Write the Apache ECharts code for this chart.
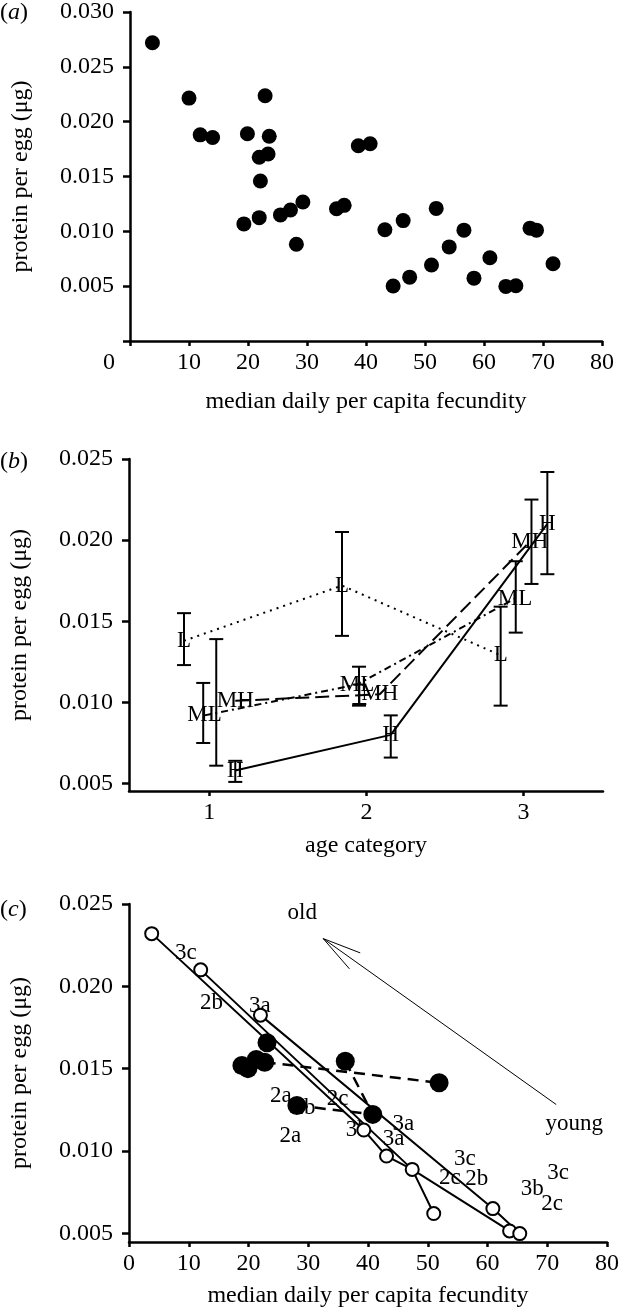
<!DOCTYPE html>
<html><head><meta charset="utf-8">
<script src="https://cdn.jsdelivr.net/npm/echarts@6/dist/echarts.min.js"></script>
<style>html,body{margin:0;padding:0;background:#fff}#c{width:622px;height:1309px}</style>
</head><body><div id="c"></div>
<script>
// ---------- panel (a) ----------
const aFec = [3.8,10.0,11.9,14.0,19.9,22.9,23.6,23.4,21.9,22.1,19.3,21.9,25.5,27.2,29.3,28.2,35.0,36.3,38.7,40.7,43.2,44.6,46.3,47.4,51.1,51.9,54.1,56.6,58.3,61.0,63.7,65.4,67.8,68.9,71.7];
const aProt = [0.0272,0.02215,0.0188,0.01855,0.0189,0.02236,0.01867,0.01705,0.01675,0.01459,0.01068,0.01125,0.0115,0.01195,0.01267,0.00882,0.01206,0.01237,0.0178,0.01798,0.01014,0.00501,0.01098,0.00582,0.00693,0.01209,0.00858,0.01011,0.00573,0.00759,0.00498,0.00504,0.01029,0.01011,0.00705];
const aYTicks = [0,0.005,0.010,0.015,0.020,0.025,0.030];
const aYLabels = [0.005,0.010,0.015,0.020,0.025,0.030];

// ---------- panel (b) ----------
const bTicks = [1,2,3];
const bYTicks = [0.005,0.010,0.015,0.020,0.025];
const bGroups = ['L','ML','MH','H'];
const bLineX = { L:[0.84,1.845,2.854], ML:[0.97,1.94,2.945], MH:[1.166,2.085,3.04], H:[1.166,2.155,3.151] };
const bErrX  = { L:[0.84,1.845,2.854], ML:[0.962,1.953,2.95], MH:[1.045,1.955,3.05], H:[1.166,2.155,3.151] };
const bMean  = { L:[0.0138,0.0172,0.0129], ML:[0.0092,0.0111,0.0164], MH:[0.0101,0.0105,0.0199], H:[0.0058,0.0080,0.0210] };
const bLo    = { L:[0.0123,0.0141,0.0098], ML:[0.0075,0.0098,0.0143], MH:[0.0061,0.0099,0.0173], H:[0.0051,0.0066,0.0179] };
const bHi    = { L:[0.0155,0.0205,0.0159], ML:[0.0112,0.0122,0.0187], MH:[0.0139,0.0111,0.0225], H:[0.0064,0.0092,0.0242] };

// ---------- panel (c) ----------
const cXTicks = [0,10,20,30,40,50,60,70,80];
const cYTicks = [0.005,0.010,0.015,0.020,0.025];
const ocX = [3.8,12.0,22.0,39.3,43.1,47.4,51.0,60.9,63.7,65.4];
const ocY = [0.0232,0.0210,0.01825,0.01127,0.00969,0.00888,0.0062,0.0065,0.00514,0.00498];
const ocPaths = [[0,3,4,5,8],[1,5,6],[2,7,9]];
const fcX = [23.1,18.9,19.9,21.3,22.7,36.2,51.9,28.1,40.8];
const fcY = [0.01657,0.01519,0.0150,0.01555,0.01539,0.01545,0.01414,0.01276,0.01222];
const fcPaths = [[4,6],[5,8],[7,8]];
const cLabelText = ['3c','2b','3a','2a','2b','2a','2c','3b','3a','3a','3c','2c','2b','3b','3c','2c'];
const cLabelX = [9.5,13.8,21.9,25.4,29.3,27.0,34.9,38.2,45.9,44.3,56.2,53.7,58.2,67.5,71.8,70.8];
const cLabelY = [0.02203,0.0190,0.01879,0.01337,0.01262,0.01094,0.01317,0.01127,0.01161,0.01074,0.00953,0.00838,0.00828,0.00767,0.00868,0.00676];
const ageText = ['old','young'];
const ageX = [29.0,74.5];
const ageY = [0.02445,0.01161];
const arrowShaft = [[71.5,0.01282],[32.5,0.0229]];
const arrowBarbA = [[32.5,0.0229],[38.7,0.02203]];
const arrowBarbB = [[32.5,0.0229],[36.9,0.02106]];

const FONT = 'Liberation Serif';
const txt = {fontFamily: FONT, fontSize: 24, color: '#000'};
const axLine = {lineStyle: {color: '#000', width: 2.5}, onZero: false};
const fmt3 = v => v.toFixed(3);

function xAxisCfg(g, min, max, ticks, name, nameGap, fmt, rich) {
  return {gridIndex: g, type: 'value', min: min, max: max,
    axisLine: axLine, splitLine: {show: false},
    axisTick: {length: 5, lineStyle: {color: '#000', width: 2.5}, customValues: ticks},
    axisLabel: Object.assign({margin: 10, customValues: ticks, formatter: fmt, rich: rich}, txt),
    name: name, nameLocation: 'middle', nameGap: nameGap, nameTextStyle: txt};
}
function yAxisCfg(g, min, max, ticks, labels) {
  return {gridIndex: g, type: 'value', min: min, max: max,
    axisLine: axLine, splitLine: {show: false},
    axisTick: {length: 7, lineStyle: {color: '#000', width: 2.5}, customValues: ticks},
    axisLabel: Object.assign({margin: 16, customValues: labels, formatter: fmt3}, txt),
    name: 'protein per egg (μg)', nameLocation: 'middle', nameGap: 97, nameTextStyle: txt};
}

const textLabel = Object.assign({show: true, position: 'inside'}, txt, {fontSize: 23, opacity: 1});
const series = [];
// (a)
series.push({type: 'scatter', xAxisIndex: 0, yAxisIndex: 0, symbolSize: 15,
  itemStyle: {color: '#000', opacity: 1}, data: aFec.map((x, i) => [x, aProt[i]])});

// (b)
const bStyles = {L: {type: [2, 5], width: 2}, ML: {type: [7, 4, 2, 4], width: 2}, MH: {type: [14, 6], width: 2}, H: {type: 'solid', width: 2}};
bGroups.forEach(gname => {
  series.push({type: 'line', xAxisIndex: 1, yAxisIndex: 1, symbol: 'none', z: 2,
    lineStyle: Object.assign({color: '#000', opacity: 1}, bStyles[gname]),
    data: bLineX[gname].map((x, i) => [x, bMean[gname][i]])});
  series.push({type: 'custom', xAxisIndex: 1, yAxisIndex: 1, z: 3,
    data: bErrX[gname].map((x, i) => [x, bLo[gname][i], bHi[gname][i]]),
    renderItem: function (params, api) {
      const p1 = api.coord([api.value(0), api.value(1)]);
      const p2 = api.coord([api.value(0), api.value(2)]);
      const st = {stroke: '#000', lineWidth: 2};
      return {type: 'group', children: [
        {type: 'line', shape: {x1: p1[0], y1: p1[1], x2: p2[0], y2: p2[1]}, style: st},
        {type: 'line', shape: {x1: p1[0] - 7, y1: p1[1], x2: p1[0] + 7, y2: p1[1]}, style: st},
        {type: 'line', shape: {x1: p2[0] - 7, y1: p2[1], x2: p2[0] + 7, y2: p2[1]}, style: st}
      ]};
    }});
  series.push({type: 'scatter', xAxisIndex: 1, yAxisIndex: 1, symbolSize: 1, z: 4,
    itemStyle: {color: 'rgba(0,0,0,0)', opacity: 1},
    label: Object.assign({formatter: gname}, textLabel),
    data: bLineX[gname].map((x, i) => [x, bMean[gname][i]])});
});

// (c)
ocPaths.forEach(p => series.push({type: 'line', xAxisIndex: 2, yAxisIndex: 2, symbol: 'none', z: 2,
  lineStyle: {color: '#000', width: 2, opacity: 1}, data: p.map(i => [ocX[i], ocY[i]])}));
fcPaths.forEach(p => series.push({type: 'line', xAxisIndex: 2, yAxisIndex: 2, symbol: 'none', z: 2,
  lineStyle: {color: '#000', width: 2.5, type: [11, 7], opacity: 1}, data: p.map(i => [fcX[i], fcY[i]])}));
[arrowShaft, arrowBarbA, arrowBarbB].forEach(d => series.push({type: 'line', xAxisIndex: 2, yAxisIndex: 2,
  symbol: 'none', z: 2, lineStyle: {color: '#000', width: 1, opacity: 1}, data: d}));
series.push({type: 'scatter', xAxisIndex: 2, yAxisIndex: 2, symbolSize: 1, z: 3,
  itemStyle: {color: 'rgba(0,0,0,0)', opacity: 1},
  label: Object.assign({formatter: p => p.data[2]}, textLabel),
  data: cLabelX.map((x, i) => [x, cLabelY[i], cLabelText[i]]).concat(ageX.map((x, i) => [x, ageY[i], ageText[i]]))});
series.push({type: 'scatter', xAxisIndex: 2, yAxisIndex: 2, symbolSize: 19, z: 4,
  itemStyle: {color: '#000', opacity: 1}, data: fcX.map((x, i) => [x, fcY[i]])});
series.push({type: 'scatter', xAxisIndex: 2, yAxisIndex: 2, symbolSize: 13, z: 5,
  itemStyle: {color: '#fff', borderColor: '#000', borderWidth: 2, opacity: 1}, data: ocX.map((x, i) => [x, ocY[i]])});

const panelLetter = (letter, y) => ({type: 'text', x: 0, y: y,
  style: {text: '({i|' + letter + '})', fontFamily: FONT, fontSize: 24, fill: '#000', verticalAlign: 'middle',
    rich: {i: {fontFamily: FONT, fontSize: 24, fontStyle: 'italic', fill: '#000'}}}});

const option = {
  animation: false,
  backgroundColor: '#fff',
  grid: [
    {left: 130, right: 20, top: 7.5, bottom: 968},
    {left: 129, right: 19, top: 459, bottom: 518},
    {left: 129, right: 11, top: 904, bottom: 66}
  ],
  xAxis: [
    xAxisCfg(0, 0, 80, cXTicks, 'median daily per capita fecundity', 49,
      v => v === 0 ? '{z|0}' : String(v), {z: {padding: [0, 42, 0, 0], fontFamily: FONT, fontSize: 24, color: '#000'}}),
    xAxisCfg(1, 0.49, 3.505, bTicks, 'age category', 43, v => String(Math.round(v))),
    xAxisCfg(2, 0, 80, cXTicks, 'median daily per capita fecundity', 42, v => String(v))
  ],
  yAxis: [
    yAxisCfg(0, 0, 0.030, aYTicks, aYLabels),
    yAxisCfg(1, 0.00454, 0.025, bYTicks, bYTicks),
    yAxisCfg(2, 0.00447, 0.025, cYTicks, cYTicks)
  ],
  graphic: [panelLetter('a', 13), panelLetter('b', 462), panelLetter('c', 910)],
  series: series
};
const chart = echarts.init(document.getElementById('c'), null, {renderer: 'canvas'});
chart.setOption(option);
</script></body></html>
